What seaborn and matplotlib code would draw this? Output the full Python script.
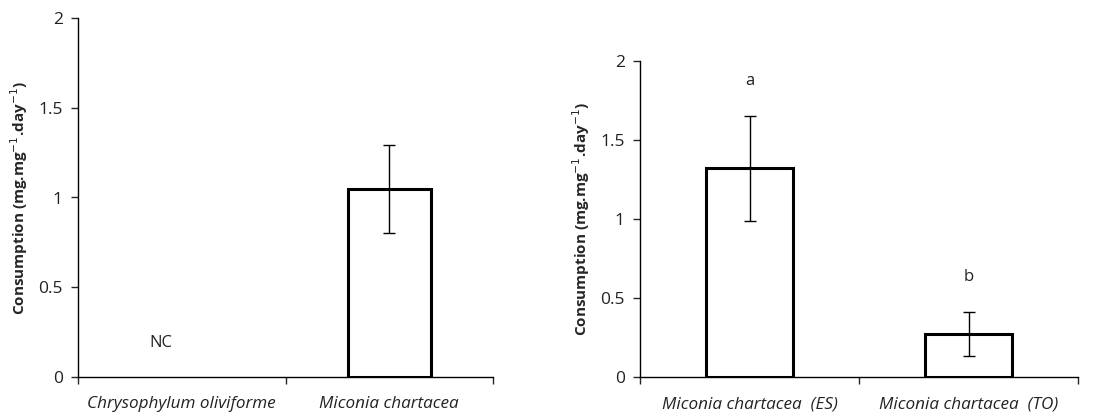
import matplotlib
matplotlib.use("Agg")
import matplotlib.pyplot as plt
import seaborn as sns
import pandas as pd

# left panel: no-choice test
left_cats = ["Chrysophylum oliviforme", "Miconia chartacea"]
left_means = [None, 1.05]
left_errs = [None, 0.245]

# right panel: two Miconia populations
right_cats = ["Miconia chartacea  (ES)", "Miconia chartacea  (TO)"]
right_means = [1.32, 0.27]
right_errs = [0.335, 0.14]
right_letters = ["a", "b"]

sns.set_style("white")
plt.rcParams["font.family"] = ["Open Sans", "DejaVu Sans"]

fig = plt.figure(figsize=(11.11, 4.15), dpi=100)
ax1 = fig.add_axes([78 / 1111, 38 / 415, 415 / 1111, 359 / 415])
ax2 = fig.add_axes([640 / 1111, 38 / 415, 438 / 1111, 316 / 415])


def draw_panel(ax, cats, means, errs):
    df = pd.DataFrame({"cat": cats, "val": means}).dropna()
    sns.barplot(data=df, x="cat", y="val", order=cats, ax=ax, width=0.4,
                color="white", edgecolor="black", linewidth=2.2)
    for i, (m, e) in enumerate(zip(means, errs)):
        if m is None:
            continue
        ax.errorbar(i, m, yerr=e, color="black", lw=1, capsize=4, capthick=1)
    ax.set_xlim(-0.5, len(cats) - 0.5)
    ax.set_ylim(0, 2)
    ax.set_yticks([0, 0.5, 1, 1.5, 2])
    ax.set_yticklabels(["0", "0.5", "1", "1.5", "2"], fontsize=12.5, color="#222222")
    ax.set_xticks(range(len(cats)))
    ax.set_xticklabels(cats, fontsize=12.3, style="italic", color="#222222")
    ax.set_xticks([i - 0.5 for i in range(len(cats) + 1)], minor=True)
    ax.tick_params(axis="x", which="major", length=0, pad=14)
    ax.tick_params(axis="x", which="minor", length=5, width=1, direction="out", bottom=True)
    ax.tick_params(axis="y", length=5, width=1, direction="out", left=True, pad=6)
    ax.set_xlabel("")
    ax.set_ylabel("Consumption (mg.mg$^{-1}$.day$^{-1}$)", fontsize=11,
                  fontweight="bold", labelpad=6)
    sns.despine(ax=ax)
    for s in ["left", "bottom"]:
        ax.spines[s].set_color("black")
        ax.spines[s].set_linewidth(1)


draw_panel(ax1, left_cats, left_means, left_errs)
ax1.text(-0.1, 0.19, "NC", fontsize=12, ha="center", va="center", color="#222222")

draw_panel(ax2, right_cats, right_means, right_errs)
for i, (m, e, lab) in enumerate(zip(right_means, right_errs, right_letters)):
    ax2.text(i, m + e + 0.22, lab, fontsize=12, ha="center", va="center",
             color="#222222")

fig.savefig("out.png", dpi=100)
